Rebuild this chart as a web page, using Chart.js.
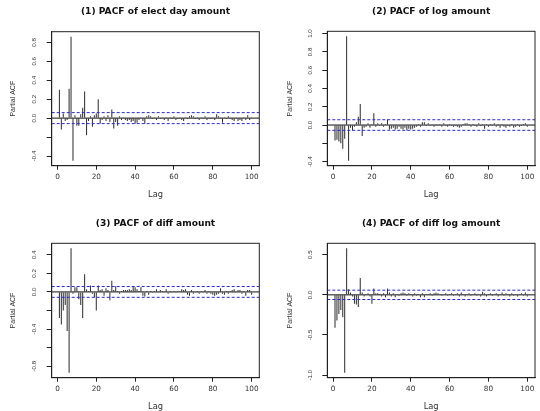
<!DOCTYPE html>
<html>
<head>
<meta charset="utf-8">
<script src="https://cdn.jsdelivr.net/npm/chart.js@4.4.0/dist/chart.umd.min.js"></script>
<style>
  body { margin: 0; width: 540px; height: 411px; overflow: hidden; background: #fff; position: relative; }
  canvas { position: absolute; }
</style>
</head>
<body>
<canvas id="c1" width="270" height="205" style="left:0px;top:0px"></canvas>
<canvas id="c2" width="270" height="205" style="left:270px;top:0px"></canvas>
<canvas id="c3" width="270" height="216" style="left:0px;top:205px"></canvas>
<canvas id="c4" width="270" height="216" style="left:270px;top:205px"></canvas>
<script>
// lags 1..100
const lags = Array.from({ length: 100 }, (_, i) => i + 1);
const xTicks = [0, 20, 40, 60, 80, 100];
const ciBound = 0.058;

const titles = [
  '(1) PACF of elect day amount',
  '(2) PACF of log amount',
  '(3) PACF of diff amount',
  '(4) PACF of diff log amount'
];

const yTicks1 = [-0.4, -0.2, 0, 0.2, 0.4, 0.6, 0.8];
const yLabels1 = ['-0.4', '', '0.0', '0.2', '0.4', '0.6', '0.8'];
const yTicks2 = [-0.4, -0.2, 0, 0.2, 0.4, 0.6, 0.8, 1.0];
const yLabels2 = ['-0.4', '', '0.0', '0.2', '0.4', '0.6', '0.8', '1.0'];
const yTicks3 = [-0.8, -0.6, -0.4, -0.2, 0, 0.2, 0.4];
const yLabels3 = ['-0.8', '', '-0.4', '', '0.0', '0.2', '0.4'];
const yTicks4 = [-1.0, -0.5, 0, 0.5];
const yLabels4 = ['-1.0', '-0.5', '0.0', '0.5'];

const pacfElect = [
  0.30, -0.12, 0.05, -0.03, -0.02, 0.31, 0.86, -0.45, 0.03, -0.08,
  -0.08, 0.04, 0.11, 0.28, -0.18, -0.03, 0.02, -0.09, 0.03, 0.05,
  0.20, -0.06, -0.02, 0.02, -0.03, 0.03, -0.04, 0.09, -0.11, -0.04,
  -0.08, 0.02, -0.02, 0.01, -0.02, -0.03, -0.02, -0.04, -0.03, -0.06,
  -0.05, -0.02, 0.01, -0.03, -0.06, 0.02, 0.03, 0.02, -0.01, 0.01,
  -0.02, 0.02, -0.01, 0.01, -0.02, 0.01, -0.03, 0.01, -0.01, 0.02,
  -0.02, -0.01, 0.01, -0.02, -0.03, 0.01, -0.01, 0.02, 0.03, 0.02,
  -0.01, 0.01, -0.02, 0.01, -0.01, 0.02, -0.02, 0.01, -0.01, 0.01,
  -0.02, 0.04, 0.02, 0.01, -0.05, 0.01, -0.01, 0.02, -0.01, -0.02,
  -0.03, 0.01, -0.03, -0.02, -0.03, 0.01, -0.02, 0.03, -0.02, 0.01
];
const pacfLog = [
  -0.17, -0.16, -0.18, -0.20, -0.26, -0.15, 0.97, -0.39, -0.03, -0.06,
  -0.02, 0.03, 0.09, 0.23, -0.12, -0.03, -0.02, 0.02, -0.03, 0.01,
  0.13, -0.02, 0.02, -0.01, 0.02, -0.02, 0.01, 0.06, -0.05, -0.04,
  -0.03, -0.05, -0.04, -0.02, -0.04, -0.05, -0.03, -0.06, -0.04, -0.05,
  -0.04, -0.03, -0.02, 0.01, -0.02, 0.03, 0.03, -0.01, 0.02, -0.01,
  0.01, -0.02, 0.01, -0.01, 0.01, -0.02, 0.02, -0.01, -0.02, 0.01,
  -0.01, -0.02, -0.01, -0.02, -0.03, -0.02, 0.01, 0.02, 0.02, 0.01,
  -0.02, 0.01, -0.01, -0.02, 0.02, -0.01, 0.01, -0.04, 0.01, -0.02,
  0.01, -0.01, 0.02, -0.02, 0.01, -0.03, 0.01, -0.02, -0.03, -0.01,
  -0.02, 0.01, -0.03, -0.02, 0.01, -0.02, -0.01, 0.01, 0.02, -0.02
];
const pacfDiff = [
  -0.28, -0.35, -0.20, -0.14, -0.42, -0.87, 0.47, -0.02, 0.05, 0.05,
  -0.08, -0.14, -0.28, 0.19, 0.03, 0.01, 0.07, -0.02, -0.06, -0.20,
  0.07, 0.02, 0.03, -0.04, 0.04, 0.02, -0.09, 0.12, 0.02, 0.06,
  0.01, -0.02, 0.01, 0.02, 0.02, 0.02, 0.03, 0.02, 0.06, 0.05,
  0.03, 0.01, 0.05, -0.04, -0.05, 0.01, -0.03, 0.01, -0.01, 0.01,
  0.03, -0.01, 0.02, 0.01, -0.01, 0.03, -0.02, 0.01, -0.01, 0.01,
  -0.01, 0.01, 0.01, 0.03, 0.02, 0.03, -0.03, -0.04, 0.02, -0.02,
  -0.01, 0.01, -0.02, 0.01, -0.01, 0.02, -0.02, 0.01, -0.02, -0.03,
  -0.04, -0.03, -0.02, 0.04, -0.02, -0.03, 0.01, -0.02, 0.01, 0.02,
  0.03, -0.01, 0.02, 0.02, -0.02, 0.01, -0.04, 0.02, 0.02, -0.03
];
const pacfDiffLog = [
  -0.41, -0.32, -0.24, -0.19, -0.28, -0.97, 0.58, 0.07, 0.03, -0.02,
  -0.11, -0.12, -0.15, 0.21, 0.03, -0.02, 0.01, 0.02, -0.02, -0.11,
  0.08, 0.02, 0.02, 0.01, -0.02, 0.02, -0.03, 0.08, 0.03, -0.02,
  0.02, -0.03, 0.01, -0.01, 0.02, 0.03, 0.02, -0.01, 0.02, 0.01,
  -0.02, 0.02, -0.01, 0.01, -0.03, 0.02, -0.03, 0.01, 0.01, 0.02,
  -0.01, 0.02, 0.03, 0.02, 0.01, -0.01, 0.01, 0.02, -0.01, 0.01,
  0.02, -0.01, 0.01, 0.02, -0.02, 0.03, 0.01, -0.02, 0.01, 0.02,
  -0.01, 0.01, 0.02, -0.01, 0.01, -0.02, 0.04, 0.02, -0.02, 0.01,
  0.02, -0.01, 0.01, 0.02, -0.02, 0.01, 0.03, -0.01, 0.02, 0.01,
  -0.02, 0.02, -0.01, 0.01, -0.02, 0.01, 0.02, -0.01, 0.03, -0.02
];

// layout of each panel (plot box inside its canvas)
const panels = [
  { id: 'c1', title: titles[0], values: pacfElect, yTicks: yTicks1, yLabels: yLabels1,
    box: { l: 51.7, r: 259.3, t: 31.7, b: 165.7 }, titleY: 11.7, yTitleX: 13.5, lagY: 195 },
  { id: 'c2', title: titles[1], values: pacfLog, yTicks: yTicks2, yLabels: yLabels2,
    box: { l: 57.3, r: 265, t: 31.3, b: 165.7 }, titleY: 11.7, yTitleX: 20, lagY: 195 },
  { id: 'c3', title: titles[2], values: pacfDiff, yTicks: yTicks3, yLabels: yLabels3,
    box: { l: 51.7, r: 259.3, t: 38.3, b: 172.7 }, titleY: 19, yTitleX: 13.5, lagY: 202.3 },
  { id: 'c4', title: titles[3], values: pacfDiffLog, yTicks: yTicks4, yLabels: yLabels4,
    box: { l: 57.3, r: 265, t: 38.3, b: 172.7 }, titleY: 19, yTitleX: 20, lagY: 202.3 }
];

const ink = '#222';
const hFont = 'DejaVu Sans';
const vFont = 'Liberation Sans';

// box around the plot and rotated y tick labels (R style)
const framePlugin = {
  id: 'frame',
  afterDraw(chart, args, opts) {
    const { ctx, chartArea: a } = chart;
    const y = chart.scales.y;
    ctx.save();
    ctx.strokeStyle = ink;
    ctx.lineWidth = 1;
    ctx.strokeRect(a.left, a.top, a.right - a.left, a.bottom - a.top);
    ctx.fillStyle = '#333';
    ctx.font = '6.2px "' + vFont + '"';
    ctx.textAlign = 'center';
    ctx.textBaseline = 'middle';
    opts.ticks.forEach((v, i) => {
      const txt = opts.labels[i];
      if (!txt) return;
      ctx.save();
      ctx.translate(a.left - 17, y.getPixelForValue(v));
      ctx.rotate(-Math.PI / 2);
      ctx.fillText(txt, 0, 0);
      ctx.restore();
    });
    ctx.restore();
  }
};

Chart.defaults.animation = false;

panels.forEach(p => {
  const canvas = document.getElementById(p.id);
  const H = canvas.height;
  const W = canvas.width;
  const lo = Math.min(...p.values, -ciBound);
  const hi = Math.max(...p.values, ciBound);
  const yMin = lo - 0.04 * (hi - lo);
  const yMax = hi + 0.04 * (hi - lo);
  const xMin = lags[0] - 0.04 * (lags[lags.length - 1] - lags[0]);
  const xMax = lags[lags.length - 1] + 0.04 * (lags[lags.length - 1] - lags[0]);
  const titleLH = 9.1 * 1.2;
  const lagLH = 8.3 * 1.2;
  const yTitleLH = 7 * 1.2;

  new Chart(canvas, {
    type: 'bar',
    data: {
      datasets: [
        {
          type: 'line',
          data: [{ x: xMin, y: 0 }, { x: xMax, y: 0 }],
          borderColor: '#111', borderWidth: 1, pointRadius: 0, order: 1
        },
        {
          type: 'line',
          data: [{ x: xMin, y: ciBound }, { x: xMax, y: ciBound }],
          borderColor: 'rgb(40,40,225)', borderWidth: 1, borderDash: [3, 2], pointRadius: 0, order: 0
        },
        {
          type: 'line',
          data: [{ x: xMin, y: -ciBound }, { x: xMax, y: -ciBound }],
          borderColor: 'rgb(40,40,225)', borderWidth: 1, borderDash: [3, 2], pointRadius: 0, order: 0
        },
        {
          type: 'bar',
          data: lags.map((l, i) => ({ x: l, y: p.values[i] })),
          backgroundColor: '#2a2a2a', borderWidth: 0, barThickness: 1, inflateAmount: 0, order: 2
        }
      ]
    },
    options: {
      responsive: false,
      layout: { padding: { left: 0, right: W - p.box.r, top: 0, bottom: 0 } },
      plugins: {
        legend: { display: false },
        tooltip: { enabled: false },
        title: {
          display: true,
          text: p.title,
          fullSize: false,
          color: '#111',
          font: { family: hFont, size: 9.1, weight: 'bold' },
          padding: { top: p.titleY - titleLH / 2, bottom: p.box.t - p.titleY - titleLH / 2 }
        },
        frame: { ticks: p.yTicks, labels: p.yLabels }
      },
      scales: {
        x: {
          type: 'linear',
          offset: false,
          min: xMin,
          max: xMax,
          afterBuildTicks: s => { s.ticks = xTicks.map(v => ({ value: v })); },
          afterFit: s => { s.height = H - p.box.b; },
          ticks: { color: '#333', font: { family: hFont, size: 7.3 }, padding: 3.5, maxRotation: 0, autoSkip: false },
          grid: { offset: false, drawOnChartArea: false, drawTicks: true, tickLength: 4, color: ink },
          border: { display: true, color: ink },
          title: {
            display: true, text: 'Lag', color: '#333',
            font: { family: hFont, size: 8.3 },
            padding: { top: 0, bottom: H - p.lagY - lagLH / 2 }
          }
        },
        y: {
          min: yMin,
          max: yMax,
          afterBuildTicks: s => { s.ticks = p.yTicks.map(v => ({ value: v })); },
          afterFit: s => { s.width = p.box.l; },
          ticks: { display: false },
          grid: { drawOnChartArea: false, drawTicks: true, tickLength: 5, color: ink },
          border: { display: true, color: ink },
          title: {
            display: true, text: 'Partial ACF', color: '#333',
            font: { family: vFont, size: 7 },
            padding: { top: p.yTitleX - yTitleLH / 2, bottom: 0 }
          }
        }
      }
    },
    plugins: [framePlugin]
  });
});
</script>
</body>
</html>
